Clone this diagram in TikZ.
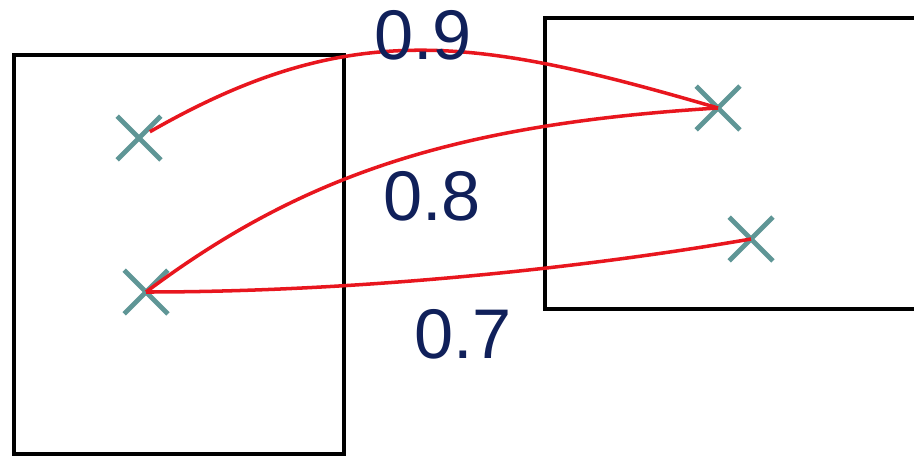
\documentclass[tikz,border=0pt]{standalone}
\usepackage{fontspec}
\setsansfont{Liberation Sans}
\usetikzlibrary{shapes.misc}
\definecolor{linkred}{HTML}{E8161E}
\definecolor{marktone}{HTML}{5F9696}
\definecolor{scorecol}{HTML}{10205A}

\begin{document}
\begin{tikzpicture}[
    every node/.style={font=\sffamily},
    point/.style={cross out, draw=marktone, line width=2.7pt, minimum size=0.78cm, inner sep=0pt},
    link/.style={linkred, line width=2pt},
    score/.style={font=\sffamily\fontsize{40}{48}\selectfont, text=scorecol, inner sep=0pt},
    frame/.style={black, line width=2.2pt},
]
\useasboundingbox (0,0) rectangle (18.28,9.14);

% the two frames, the right one runs off the page
\draw[frame] (0.28,0.06) rectangle (6.88,8.04);
\draw[frame] (18.28,8.78) -- (10.9,8.78) -- (10.9,2.96) -- (18.28,2.96);

% points
\node[point] (a1) at (2.78,6.38) {};
\node[point] (a2) at (2.92,3.30) {};
\node[point] (b1) at (14.36,6.98) {};
\node[point] (b2) at (15.02,4.36) {};

% matches
\draw[link, shorten <=0.25cm] (a1.center) .. controls (7.0,8.8) and (9.5,8.4) .. (b1.center);
\draw[link] (a2.center) .. controls (6.0,5.6) and (9.0,6.65) .. (b1.center);
\draw[link] (a2.center) .. controls (7.0,3.3) and (11.5,3.75) .. (b2.center);

% scores
\node[score] (s9) at (8.46,8.44) {0.9};
\node[score] (s8) at (8.64,5.22) {0.8};
\node[score] (s7) at (9.26,2.46) {0.7};

\end{tikzpicture}
\end{document}
